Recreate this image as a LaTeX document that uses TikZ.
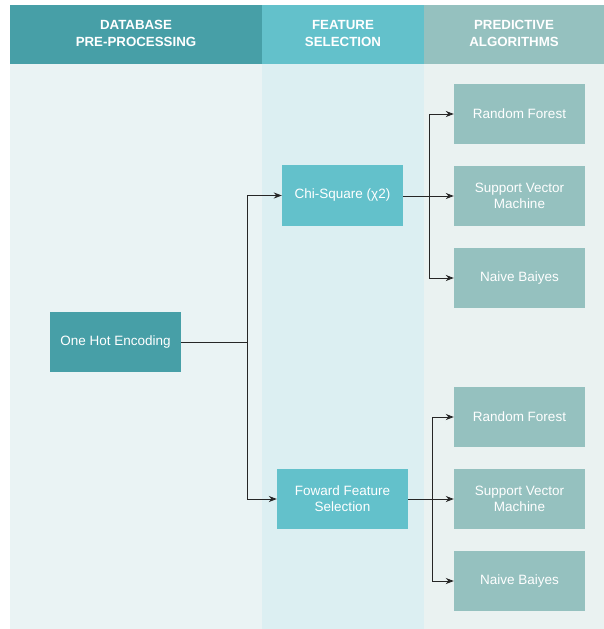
\documentclass[tikz,border=0pt]{standalone}
\usepackage{fontspec}
\setmainfont{Liberation Sans}
\usetikzlibrary{arrows.meta}
\definecolor{hA}{HTML}{479FA7}
\definecolor{hB}{HTML}{63C1CB}
\definecolor{hC}{HTML}{95C1BF}
\definecolor{bA}{HTML}{EAF3F4}
\definecolor{bB}{HTML}{DCEFF2}
\definecolor{bC}{HTML}{EAF2F1}
\tikzset{
  hdr/.style={font=\fontsize{13.3}{17}\selectfont\bfseries, text=white, align=center},
  box/.style={minimum width=131pt, minimum height=60pt, inner sep=0pt, text=white, align=center, font=\fontsize{13.5}{16}\selectfont},
  conn/.style={draw=black!85, line width=0.8pt},
  arr/.style={conn, -{Stealth[length=8pt,width=6pt]}}
}
\begin{document}
\begin{tikzpicture}[x=1pt,y=-1pt]
\useasboundingbox (0,0) rectangle (604,629);
% columns
\fill[bA] (10,64) rectangle (262,629);
\fill[bB] (262,64) rectangle (424,629);
\fill[bC] (424,64) rectangle (604,629);
\fill[hA] (10,5) rectangle (262,64);
\fill[hB] (262,5) rectangle (424,64);
\fill[hC] (424,5) rectangle (604,64);
\node[hdr] (h1) at (136,33) {DATABASE\\PRE-PROCESSING};
\node[hdr] (h2) at (343,33) {FEATURE\\SELECTION};
\node[hdr] (h3) at (514,33) {PREDICTIVE\\ALGORITHMS};
% nodes
\node[box, fill=hA] (ohe) at (115.5,342) {One Hot Encoding};
\node[box, fill=hB, minimum width=121pt, minimum height=61pt] (chi) at (342.5,195.5) {Chi-Square (χ2)};
\node[box, fill=hB] (ffs) at (342.5,499) {Foward Feature\\Selection};
\node[box, fill=hC] (rf1) at (519.5,114) {Random Forest};
\node[box, fill=hC] (svm1) at (519.5,196) {Support Vector\\Machine};
\node[box, fill=hC] (nb1) at (519.5,278) {Naive Baiyes};
\node[box, fill=hC] (rf2) at (519.5,417) {Random Forest};
\node[box, fill=hC] (svm2) at (519.5,499) {Support Vector\\Machine};
\node[box, fill=hC] (nb2) at (519.5,581) {Naive Baiyes};
% junctions
\coordinate (j0) at (247,342);
\coordinate (j1) at (429,196);
\coordinate (j2) at (432,499);
% connectors
\draw[conn] (ohe.east) -- (j0);
\draw[arr] (j0) |- (chi.west);
\draw[arr] (j0) |- (ffs.west);
\draw[conn] (chi.east |- j1) -- (j1);
\draw[arr] (j1) |- (rf1.west);
\draw[arr] (j1) -- (svm1.west);
\draw[arr] (j1) |- (nb1.west);
\draw[conn] (ffs.east) -- (j2);
\draw[arr] (j2) |- (rf2.west);
\draw[arr] (j2) -- (svm2.west);
\draw[arr] (j2) |- (nb2.west);
\end{tikzpicture}
\end{document}
